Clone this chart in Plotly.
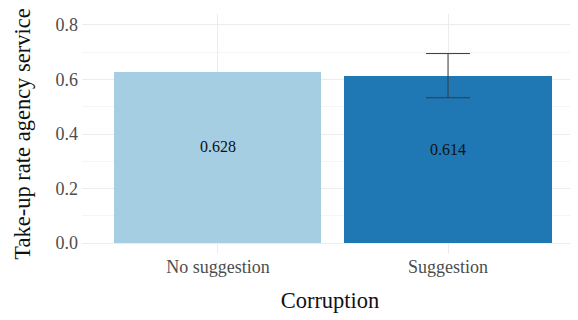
import plotly.graph_objects as go

categories = ["No suggestion", "Suggestion"]
values = [0.628, 0.614]
ci_low = [None, 0.533]
ci_high = [None, 0.695]
bar_colors = ["#a6cee3", "#1f78b4"]
y_ticks = [0.0, 0.2, 0.4, 0.6, 0.8]
y_tick_labels = ["0.0", "0.2", "0.4", "0.6", "0.8"]
label_texts = ["0.628", "0.614"]

font = "Liberation Serif"

fig = go.Figure()
fig.add_trace(go.Bar(
    x=categories, y=values, width=0.9,
    marker=dict(color=bar_colors, line=dict(width=0)),
    hoverinfo="skip", showlegend=False,
))
# error bar only for the second bar
fig.add_trace(go.Scatter(
    x=[categories[1]], y=[values[1]], mode="markers",
    marker=dict(size=0.1, color="rgba(0,0,0,0)"),
    error_y=dict(type="data", symmetric=False,
                 array=[ci_high[1] - values[1]],
                 arrayminus=[values[1] - ci_low[1]],
                 color="#3a3a3a", thickness=1, width=22),
    showlegend=False, hoverinfo="skip",
))

for c, v, t in zip(categories, values, label_texts):
    fig.add_annotation(x=c, y=v - 0.272, text=t, showarrow=False,
                       font=dict(family=font, size=16, color="#111111"))

fig.update_layout(
    width=570, height=312,
    margin=dict(l=74, r=0, t=6, b=66),
    plot_bgcolor="white", paper_bgcolor="white",
    font=dict(family=font),
    bargap=0,
)
fig.update_xaxes(
    range=[-0.591, 1.565], showgrid=True, gridcolor="#ececec", gridwidth=1,
    ticks="", tickfont=dict(family=font, size=18, color="#4d4d4d"),
    title=dict(text="Corruption", font=dict(family=font, size=22.5, color="#111111"), standoff=16),
    zeroline=False, showline=False, automargin=False,
)
fig.update_yaxes(
    range=[-0.04, 0.84], tickvals=y_ticks, ticktext=y_tick_labels,
    showgrid=True, gridcolor="#ececec", gridwidth=1,
    minor=dict(dtick=0.1, tick0=0.1, showgrid=True, gridcolor="#f5f5f5", gridwidth=0.6),
    ticks="", ticklabelstandoff=3,
    tickfont=dict(family=font, size=18, color="#4d4d4d"),
    title=dict(text="Take-up rate agency service", font=dict(family=font, size=22.5, color="#111111"), standoff=18),
    zeroline=False, showline=False, automargin=False,
)

fig.write_html("out.html")
